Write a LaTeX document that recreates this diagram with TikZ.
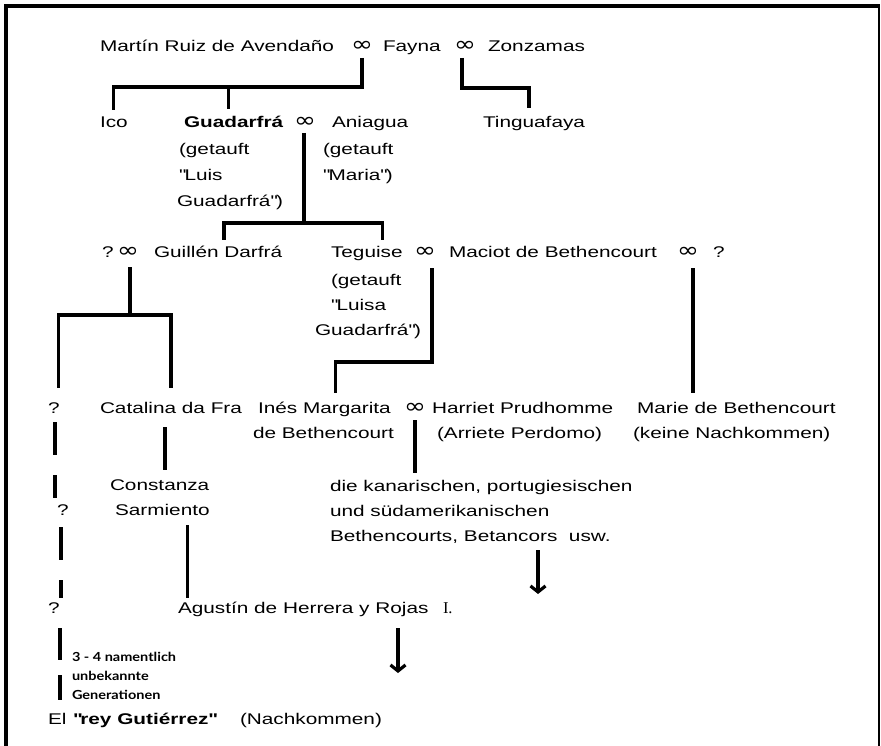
\documentclass[tikz,border=0pt]{standalone}
\usepackage{fontspec}
\setmainfont[FakeStretch=1.34]{Liberation Sans}
\newfontfamily\notefont[FakeStretch=1.16]{Lato}
\newfontfamily\romfont{Liberation Serif}
\newfontfamily\inffont[FakeStretch=1.25]{DejaVu Sans}
\usetikzlibrary{arrows.meta}
\tikzset{
  nm/.style={inner sep=0pt, outer sep=0pt, anchor=base west, font=\fontsize{15.5}{18}\selectfont},
  nmb/.style={nm, font=\fontsize{15.5}{18}\selectfont\bfseries},
  inf/.style={inner sep=0pt, outer sep=0pt, anchor=base, font=\inffont\fontsize{21}{22}\selectfont},
  note/.style={inner sep=0pt, outer sep=0pt, anchor=base west, font=\notefont\bfseries\fontsize{12.5}{13}\selectfont},
  conn/.style={line width=3.2pt},
  dconn/.style={line width=3.2pt, dash pattern=on 33pt off 20pt},
  arr/.style={line width=3.2pt, -{Straight Barb[length=6pt,width=15pt]}},
  frame/.style={line width=3.2pt}
}
\begin{document}
\begin{tikzpicture}[x=1pt,y=-1pt]
\useasboundingbox (0,0) rectangle (881,746);
% frame (open at the bottom)
\draw[frame] (6,746) -- (6,6) -- (880,6);
\draw[line width=1.2pt] (879,6) -- (879,746);

% row 1
\node[nm] (martin) at (100,52) {Martín Ruiz de Avendaño};
\node[inf] (i1) at (362,52) {∞};
\node[nm] (fayna) at (383,52) {Fayna};
\node[inf] (i2) at (465,52) {∞};
\node[nm] (zonz) at (488,52) {Zonzamas};

% row 2
\node[nm] (ico) at (100,128) {Ico};
\node[nmb] (guad) at (184,128) {Guadarfrá};
\node[inf] (i3) at (305,128) {∞};
\node[nm] (ania) at (332,128) {Aniagua};
\node[nm] (guad1) at (179,155) {(getauft};
\node[nm] (guad2) at (179,181) {\textquotedbl Luis};
\node[nm] (guad3) at (177,207) {Guadarfrá\textquotedbl)};
\node[nm] (ania1) at (323,155) {(getauft};
\node[nm] (ania2) at (323,181) {\textquotedbl Maria\textquotedbl)};
\node[nm] (ting) at (483,128) {Tinguafaya};

% row 3
\node[nm] (q0) at (102,258) {?};
\node[inf] (i4) at (128,258) {∞};
\node[nm] (guil) at (154,258) {Guillén Darfrá};
\node[nm] (teg) at (331,258) {Teguise};
\node[nm] (teg1) at (331,285) {(getauft};
\node[nm] (teg2) at (331,310) {\textquotedbl Luisa};
\node[nm] (teg3) at (315,335) {Guadarfrá\textquotedbl)};
\node[inf] (i5) at (425,258) {∞};
\node[nm] (maciot) at (449,258) {Maciot de Bethencourt};
\node[inf] (i6) at (688,258) {∞};
\node[nm] (q00) at (713,258) {?};

% row 4
\node[nm] (q1) at (48,413) {?};
\node[nm] (cat) at (100,413) {Catalina da Fra};
\node[nm] (ines) at (258,413) {Inés Margarita};
\node[nm] (ines2) at (253,438) {de Bethencourt};
\node[inf] (i7) at (415,413) {∞};
\node[nm] (harr) at (432,413) {Harriet Prudhomme};
\node[nm] (harr2) at (437,438) {(Arriete Perdomo)};
\node[nm] (marie) at (637,413) {Marie de Bethencourt};
\node[nm] (marie2) at (633,438) {(keine Nachkommen)};

% row 5
\node[nm] (q2) at (57,515) {?};
\node[nm] (con1) at (110,490) {Constanza};
\node[nm] (con2) at (115,515) {Sarmiento};
\node[nm] (kan1) at (330,491) {die kanarischen, portugiesischen};
\node[nm] (kan2) at (330,516) {und südamerikanischen};
\node[nm] (kan3) at (330,541) {Bethencourts, Betancors\ \ usw.};

% row 6
\node[nm] (q3) at (48,613) {?};
\node[nm] (agus) at (178,613) {Agustín de Herrera y Rojas};
\node[nm, font=\romfont\fontsize{16.5}{18}\selectfont] (rom) at (443,613) {I.};

% note
\node[note] (n1) at (72,661) {3 - 4 namentlich};
\node[note] (n2) at (72,680) {unbekannte};
\node[note] (n3) at (72,699) {Generationen};

% last row
\node[nm] (el) at (48,724) {El};
\node[nmb] (rey) at (73,724) {\textquotedbl rey Gutiérrez\textquotedbl};
\node[nm] (nach) at (240,724) {(Nachkommen)};

% connectors
\draw[conn] ([yshift=-6pt]i1.base) -- ++(0,29) coordinate (b1) -| ([yshift=18pt]ico.base);
\draw[conn] (b1) -| ([xshift=-5pt,yshift=19pt]guad.base);
\draw[conn] ([xshift=-3pt,yshift=-6pt]i2.base) -- ++(0,30) -| ([xshift=-5pt,yshift=20pt]ting.base);
\draw[conn] ([xshift=-1pt,yshift=-5pt]i3.base) -- ++(0,90) coordinate (b3) -| ([xshift=6pt,yshift=18pt]guil.base);
\draw[conn] (b3) -| ([xshift=15.5pt,yshift=18pt]teg.base);
\draw[conn] ([xshift=2pt,yshift=-9pt]i4.base) -- ++(0,48) coordinate (b4) -| ([xshift=5pt,yshift=25pt]q1.base);
\draw[conn] (b4) -| ([yshift=25pt]cat.base);
\draw[conn] ([xshift=7pt,yshift=-10pt]i5.base) -- ++(0,94) -| ([xshift=11pt,yshift=20pt]ines.base);
\draw[conn] ([xshift=5pt,yshift=-10pt]i6.base) -- ++(0,125);
\draw[conn] ([xshift=-6pt,yshift=-14pt]cat.base) -- ++(0,43);
\draw[conn] ([xshift=25.5pt,yshift=-10pt]con2.base) -- ++(0,73);
\draw[conn] ([yshift=-7pt]i7.base) -- ++(0,53);
\draw[arr] ([xshift=208pt,yshift=-9pt]kan3.base west) -- ++(0,44);
\draw[arr] ([xshift=220pt,yshift=-15pt]agus.base west) -- ++(0,45);
\draw[dconn] ([xshift=7pt,yshift=-9pt]q1.base west) -- ++(0,76);
\draw[dconn] ([xshift=4pt,yshift=-12pt]q2.base west) -- ++(0,71);
\draw[dconn, dash pattern=on 32pt off 15pt] ([xshift=12pt,yshift=-15pt]q3.base west) -- ++(0,72);
\end{tikzpicture}
\end{document}
